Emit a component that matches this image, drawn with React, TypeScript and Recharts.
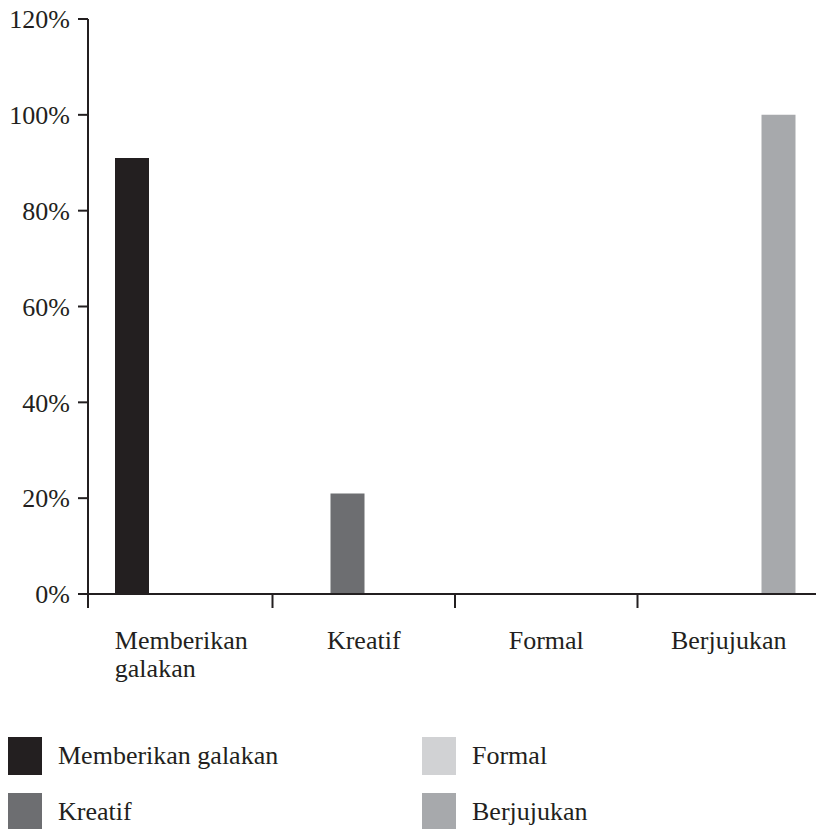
import React from 'react';
import { BarChart, Bar, XAxis, YAxis } from 'recharts';

const categories = ['Memberikan galakan', 'Kreatif', 'Formal', 'Berjujukan'];
const seriesNames = ['Memberikan galakan', 'Kreatif', 'Formal', 'Berjujukan'];
const seriesColors = ['#231f20', '#6d6e71', '#d1d2d4', '#a7a9ac'];

const memberikanValues = [91, 0, 0, 0];
const kreatifValues = [0, 21, 0, 0];
const formalValues = [0, 0, 0, 0];
const berjujukanValues = [0, 0, 0, 100];

const yTicks = [0, 20, 40, 60, 80, 100, 120];

const seriesValues = [memberikanValues, kreatifValues, formalValues, berjujukanValues];

const data = categories.map((category, i) => {
  const row: any = { category };
  seriesValues.forEach((values, s) => {
    row['s' + s] = values[i];
  });
  return row;
});

const WIDTH = 816;
const HEIGHT = 829;
const MARGIN = { top: 19, right: -4, left: 0, bottom: 135 };
const Y_AXIS_WIDTH = 88;
const X_AXIS_HEIGHT = 100;
const PAD_LEFT = 2;
const BAND = (WIDTH - MARGIN.left - MARGIN.right - Y_AXIS_WIDTH - PAD_LEFT) / categories.length;

const INK = '#231f20';
const FONT = '"Liberation Serif", "Times New Roman", serif';
const FONT_SIZE = 26;

let measureCtx: CanvasRenderingContext2D | null = null;
function textWidth(s: string) {
  if (!measureCtx) measureCtx = document.createElement('canvas').getContext('2d');
  if (!measureCtx) return s.length * FONT_SIZE * 0.5;
  measureCtx.font = `${FONT_SIZE}px "Liberation Serif"`;
  return measureCtx.measureText(s).width;
}

const CategoryTick = ({ x, y, payload, index }: any) => {
  const lines = String(payload.value).split(' ');
  const w = Math.max(...lines.map(textWidth));
  const left = x - w / 2;
  const tx = index === 0 ? x - BAND / 2 - PAD_LEFT : x - BAND / 2;
  return (
    <g>
      <line x1={tx} x2={tx} y1={y} y2={y + 14} stroke={INK} strokeWidth={2} />
      <text x={left} y={y + 55} textAnchor="start" fill={INK} fontSize={FONT_SIZE} fontFamily={FONT}>
        {lines.map((l, i) => (
          <tspan key={i} x={left} dy={i === 0 ? 0 : 28}>
            {l}
          </tspan>
        ))}
      </text>
    </g>
  );
};

const legendPos = [
  { left: 8, top: 737 },
  { left: 8, top: 793 },
  { left: 422, top: 737 },
  { left: 422, top: 793 },
];

export default function App() {
  return (
    <div style={{ position: 'absolute', left: 0, top: 0, width: WIDTH, height: HEIGHT, background: '#fff', overflow: 'hidden' }}>
      <BarChart width={WIDTH} height={HEIGHT} data={data} margin={MARGIN} barGap={-1} barSize={34}>
        <XAxis
          dataKey="category"
          height={X_AXIS_HEIGHT}
          interval={0}
          padding={{ left: PAD_LEFT, right: 0 }}
          tickSize={0}
          tickMargin={0}
          tickLine={false}
          axisLine={{ stroke: INK, strokeWidth: 2 }}
          tick={<CategoryTick />}
        />
        <YAxis
          width={Y_AXIS_WIDTH}
          domain={[0, 120]}
          ticks={yTicks}
          interval={0}
          tickFormatter={(v: number) => `${v}%`}
          tickSize={10}
          tickMargin={8}
          axisLine={{ stroke: INK, strokeWidth: 2 }}
          tickLine={{ stroke: INK, strokeWidth: 2 }}
          tick={{ fill: INK, fontSize: FONT_SIZE, fontFamily: FONT }}
        />
        {seriesNames.map((name, s) => (
          <Bar key={name} dataKey={'s' + s} name={name} fill={seriesColors[s]} isAnimationActive={false} />
        ))}
      </BarChart>
      {seriesNames.map((name, s) => (
        <div
          key={name}
          style={{
            position: 'absolute',
            left: legendPos[s].left,
            top: legendPos[s].top,
            height: 38,
            display: 'flex',
            alignItems: 'center',
            fontFamily: FONT,
            fontSize: FONT_SIZE,
            color: INK,
            whiteSpace: 'nowrap',
          }}
        >
          <div style={{ width: 34, height: 38, background: seriesColors[s], marginRight: 16 }} />
          <span>{name}</span>
        </div>
      ))}
    </div>
  );
}
